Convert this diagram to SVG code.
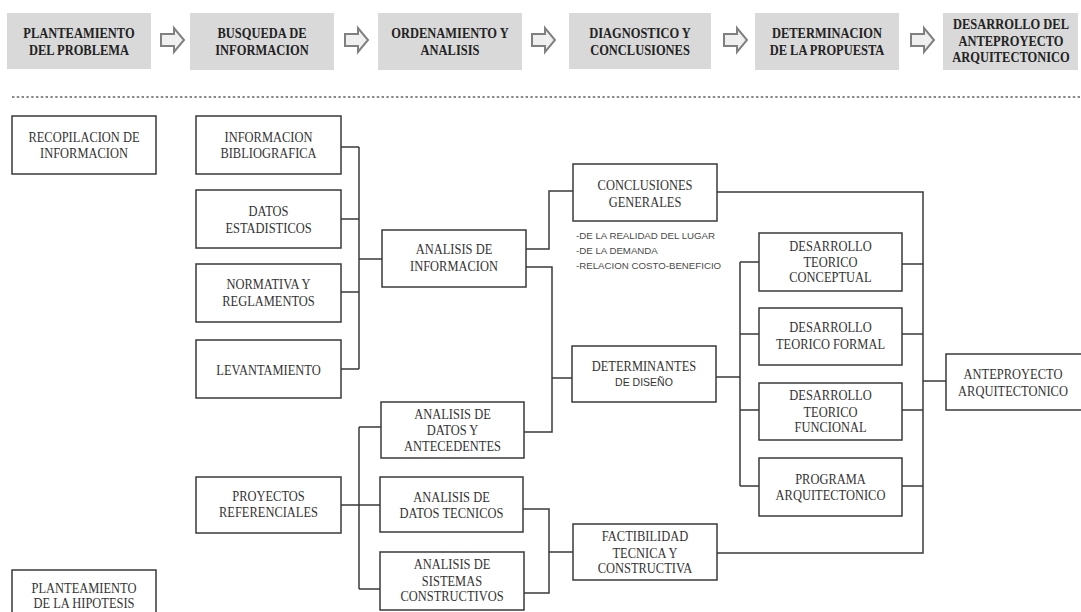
<svg xmlns="http://www.w3.org/2000/svg" width="1081" height="612" viewBox="0 0 1081 612">
<defs>
<style>
.hb{fill:#d9d9d9;stroke:none}
.ht{font-family:"Liberation Serif","Times New Roman",serif;font-weight:bold;font-size:14.5px;fill:#222;text-anchor:middle}
.nb{fill:#fff;stroke:#3a3a3a;stroke-width:1.5}
.nt{font-family:"Liberation Serif","Times New Roman",serif;font-size:14.5px;fill:#333;text-anchor:middle}
.ns{font-family:"Liberation Sans",Arial,sans-serif;font-size:10.5px;fill:#333;text-anchor:middle}
.note{font-family:"Liberation Sans",Arial,sans-serif;font-size:9.7px;fill:#4a4a4a}
.cn{fill:none;stroke:#3a3a3a;stroke-width:1.5}
.ar{fill:#efefef;stroke:#808080;stroke-width:2}
</style>
<path id="arr" d="M0,-6 H13 V-12 L23,0 L13,12 V6 H0 Z"/>
</defs>

<g id="header">
<g id="h1"><rect class="hb" x="7" y="13" width="144" height="56"/><g transform="matrix(.86 0 0 1 79 0)"><text class="ht" x="0" y="38">PLANTEAMIENTO</text><text class="ht" x="0" y="55">DEL PROBLEMA</text></g></g>
<g id="h2"><rect class="hb" x="190" y="13" width="144" height="57"/><g transform="matrix(.86 0 0 1 262 0)"><text class="ht" x="0" y="38">BUSQUEDA DE</text><text class="ht" x="0" y="55">INFORMACION</text></g></g>
<g id="h3"><rect class="hb" x="378" y="13" width="144" height="57"/><g transform="matrix(.86 0 0 1 450 0)"><text class="ht" x="0" y="38">ORDENAMIENTO Y</text><text class="ht" x="0" y="55">ANALISIS</text></g></g>
<g id="h4"><rect class="hb" x="569" y="13" width="142" height="56"/><g transform="matrix(.86 0 0 1 640 0)"><text class="ht" x="0" y="38">DIAGNOSTICO Y</text><text class="ht" x="0" y="55">CONCLUSIONES</text></g></g>
<g id="h5"><rect class="hb" x="755" y="13" width="144" height="57"/><g transform="matrix(.86 0 0 1 827 0)"><text class="ht" x="0" y="38">DETERMINACION</text><text class="ht" x="0" y="55">DE LA PROPUESTA</text></g></g>
<g id="h6"><rect class="hb" x="943" y="13" width="135" height="57"/><g transform="matrix(.86 0 0 1 1011 0)"><text class="ht" x="0" y="29">DESARROLLO DEL</text><text class="ht" x="0" y="46">ANTEPROYECTO</text><text class="ht" x="0" y="62">ARQUITECTONICO</text></g></g>
</g>
<g id="header-arrows">
<use href="#arr" class="ar" x="161" y="40"/>
<use href="#arr" class="ar" x="345" y="40"/>
<use href="#arr" class="ar" x="532" y="40"/>
<use href="#arr" class="ar" x="724" y="40"/>
<use href="#arr" class="ar" x="911" y="40"/>
</g>
<line id="divider" x1="12" y1="97" x2="1081" y2="97" stroke="#8a8a8a" stroke-width="2.2" stroke-dasharray="2.4 2.4"/>

<g id="connectors">
<path class="cn" d="M341,147 H359 M341,219 H359 M341,292 H359 M341,369 H359 M359,147 V369 M359,259 H382"/>
<path class="cn" d="M526,249 H549 V191 H573"/>
<path class="cn" d="M526,267 H552 V432 H524 M552,378 H572"/>
<path class="cn" d="M717,192 H923 V553 H717"/>
<path class="cn" d="M716,377 H740 M740,262 V486 M740,262 H759 M740,334 H759 M740,410 H759 M740,486 H759"/>
<path class="cn" d="M902,264 H923 M902,334 H923 M902,410 H923 M902,486 H923 M923,381 H946"/>
<path class="cn" d="M341,505 H380 M359,427 V589 M359,427 H381 M359,589 H380"/>
<path class="cn" d="M523,509 H549 V593 H524 M549,552 H573"/>
</g>

<g id="recopilacion"><rect class="nb" x="12" y="116" width="144" height="58"/><g transform="matrix(.86 0 0 1 84 0)"><text class="nt" x="0" y="142">RECOPILACION DE</text><text class="nt" x="0" y="158">INFORMACION</text></g></g>
<g id="info-bib"><rect class="nb" x="196" y="116" width="145" height="58"/><g transform="matrix(.86 0 0 1 268.5 0)"><text class="nt" x="0" y="142">INFORMACION</text><text class="nt" x="0" y="158">BIBLIOGRAFICA</text></g></g>
<g id="datos-est"><rect class="nb" x="196" y="190" width="145" height="58"/><g transform="matrix(.86 0 0 1 268.5 0)"><text class="nt" x="0" y="216">DATOS</text><text class="nt" x="0" y="233">ESTADISTICOS</text></g></g>
<g id="normativa"><rect class="nb" x="196" y="264" width="145" height="58"/><g transform="matrix(.86 0 0 1 268.5 0)"><text class="nt" x="0" y="289">NORMATIVA Y</text><text class="nt" x="0" y="306">REGLAMENTOS</text></g></g>
<g id="levantamiento"><rect class="nb" x="196" y="340" width="145" height="58"/><g transform="matrix(.86 0 0 1 268.5 0)"><text class="nt" x="0" y="375">LEVANTAMIENTO</text></g></g>
<g id="analisis-info"><rect class="nb" x="382" y="230" width="144" height="57"/><g transform="matrix(.86 0 0 1 454 0)"><text class="nt" x="0" y="254">ANALISIS DE</text><text class="nt" x="0" y="271">INFORMACION</text></g></g>
<g id="conclusiones"><rect class="nb" x="573" y="164" width="144" height="57"/><g transform="matrix(.86 0 0 1 645 0)"><text class="nt" x="0" y="190">CONCLUSIONES</text><text class="nt" x="0" y="207">GENERALES</text></g></g>
<g id="notes"><text class="note" x="576" y="239">-DE LA REALIDAD DEL LUGAR</text><text class="note" x="576" y="254">-DE LA DEMANDA</text><text class="note" x="576" y="269">-RELACION COSTO-BENEFICIO</text></g>
<g id="determinantes"><rect class="nb" x="572" y="346" width="144" height="56"/><g transform="matrix(.86 0 0 1 644 0)"><text class="nt" x="0" y="371">DETERMINANTES</text></g><text class="ns" x="644" y="386">DE DISEÑO</text></g>
<g id="dt-conceptual"><rect class="nb" x="759" y="233" width="143" height="58"/><g transform="matrix(.86 0 0 1 830.5 0)"><text class="nt" x="0" y="251">DESARROLLO</text><text class="nt" x="0" y="267">TEORICO</text><text class="nt" x="0" y="282">CONCEPTUAL</text></g></g>
<g id="dt-formal"><rect class="nb" x="759" y="308" width="143" height="57"/><g transform="matrix(.86 0 0 1 830.5 0)"><text class="nt" x="0" y="332">DESARROLLO</text><text class="nt" x="0" y="349">TEORICO FORMAL</text></g></g>
<g id="dt-funcional"><rect class="nb" x="759" y="383" width="143" height="57"/><g transform="matrix(.86 0 0 1 830.5 0)"><text class="nt" x="0" y="400">DESARROLLO</text><text class="nt" x="0" y="417">TEORICO</text><text class="nt" x="0" y="432">FUNCIONAL</text></g></g>
<g id="programa"><rect class="nb" x="759" y="458" width="143" height="58"/><g transform="matrix(.86 0 0 1 830.5 0)"><text class="nt" x="0" y="484">PROGRAMA</text><text class="nt" x="0" y="500">ARQUITECTONICO</text></g></g>
<g id="anteproyecto"><rect class="nb" x="946" y="354" width="140" height="56"/><g transform="matrix(.86 0 0 1 1013 0)"><text class="nt" x="0" y="379">ANTEPROYECTO</text><text class="nt" x="0" y="396">ARQUITECTONICO</text></g></g>
<g id="analisis-datos"><rect class="nb" x="381" y="402" width="143" height="56"/><g transform="matrix(.86 0 0 1 452.5 0)"><text class="nt" x="0" y="419">ANALISIS DE</text><text class="nt" x="0" y="435">DATOS Y</text><text class="nt" x="0" y="451">ANTECEDENTES</text></g></g>
<g id="analisis-tecnicos"><rect class="nb" x="380" y="477" width="143" height="55"/><g transform="matrix(.86 0 0 1 451.5 0)"><text class="nt" x="0" y="502">ANALISIS DE</text><text class="nt" x="0" y="518">DATOS TECNICOS</text></g></g>
<g id="analisis-sistemas"><rect class="nb" x="380" y="552" width="144" height="58"/><g transform="matrix(.86 0 0 1 452 0)"><text class="nt" x="0" y="569">ANALISIS DE</text><text class="nt" x="0" y="586">SISTEMAS</text><text class="nt" x="0" y="601">CONSTRUCTIVOS</text></g></g>
<g id="factibilidad"><rect class="nb" x="573" y="524" width="144" height="56"/><g transform="matrix(.86 0 0 1 645 0)"><text class="nt" x="0" y="541">FACTIBILIDAD</text><text class="nt" x="0" y="558">TECNICA Y</text><text class="nt" x="0" y="573">CONSTRUCTIVA</text></g></g>
<g id="proyectos"><rect class="nb" x="196" y="477" width="145" height="56"/><g transform="matrix(.86 0 0 1 268.5 0)"><text class="nt" x="0" y="501">PROYECTOS</text><text class="nt" x="0" y="517">REFERENCIALES</text></g></g>
<g id="hipotesis"><rect class="nb" x="12" y="570" width="144" height="60"/><g transform="matrix(.86 0 0 1 84 0)"><text class="nt" x="0" y="593">PLANTEAMIENTO</text><text class="nt" x="0" y="608">DE LA HIPOTESIS</text></g></g>
</svg>
